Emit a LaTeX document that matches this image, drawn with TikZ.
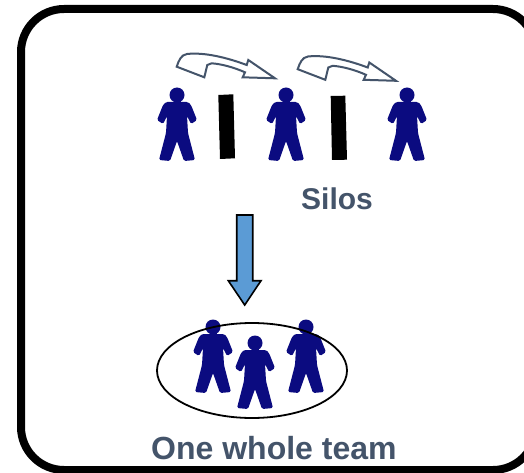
\documentclass[tikz,border=0pt]{standalone}
\usepackage{fontspec}
\setmainfont{Liberation Sans}
\definecolor{slate}{HTML}{44546A}
\definecolor{navyfig}{HTML}{0B0B80}
\definecolor{bluearrow}{HTML}{5B9BD5}
\tikzset{
  person/.pic={
    \fill[navyfig,rounded corners=1.5pt] (-11,7) -- (11,7) -- (14,10) -- (20,25) -- (14,29) -- (10,21) -- (11,38) -- (18,65) -- (7,66) -- (0,46) -- (-7,66) -- (-18,65) -- (-11,38) -- (-10,21) -- (-14,29) -- (-20,25) -- (-14,10) -- cycle;
    \fill[navyfig] (0,0) circle (7.5);
    \fill[navyfig] (-3.5,4) rectangle (3.5,9);
  },
  barshape/.style={fill=black},
  curvedarrow/.style={draw=slate,line width=2pt,fill=white,line join=miter},
  bigtext/.style={text=slate,font=\bfseries\fontsize{30}{34}\selectfont,inner sep=0pt}
}
\begin{document}
\begin{tikzpicture}[x=1pt,y=-1pt]
\useasboundingbox (0,0) rectangle (524,473);
\clip (0,0) rectangle (524,473);
\fill[white] (0,0) rectangle (524,473);
\draw[line width=8pt,rounded corners=43pt] (21,9) rectangle (536,470);
\foreach \px/\py in {177/95,286/95,407/95,213/327,255/343,306/327}
  \pic at (\px,\py) {person};
\fill[barshape] (218.3,95) -- (233.3,94.3) -- (235,158.3) -- (220,159) -- cycle;
\fill[barshape] (330.7,96) -- (345.3,95.7) -- (347,159.7) -- (332,160) -- cycle;
\foreach \dx/\dy in {0/0,121/2.5}
\draw[curvedarrow,shift={(\dx,\dy)}] (176.7,66.7) .. controls (179,60) and (181,55) .. (187,54) .. controls (205,52) and (228,58) .. (246.7,65) -- (248.3,60) -- (275,78.3) -- (242.7,77.3) -- (245,72.3) .. controls (233,67) and (221,64) .. (211.7,63.3) -- (207.3,65) -- (204.3,77.3) -- cycle;
\draw[black,line width=1.6pt,fill=bluearrow] (236.7,215) -- (252.7,215) -- (252.7,280.7) -- (261,280.7) -- (244.7,305) -- (228.3,280.7) -- (236.7,280.7) -- cycle;
\draw[black,line width=1.8pt] (252,370.5) ellipse (95 and 47.5);
\node[bigtext] (silos) at (337,198.5) {Silos};
\node[bigtext,anchor=west,font=\bfseries\fontsize{32}{36}\selectfont] (team) at (151,448.5) {One whole team};
\end{tikzpicture}
\end{document}
